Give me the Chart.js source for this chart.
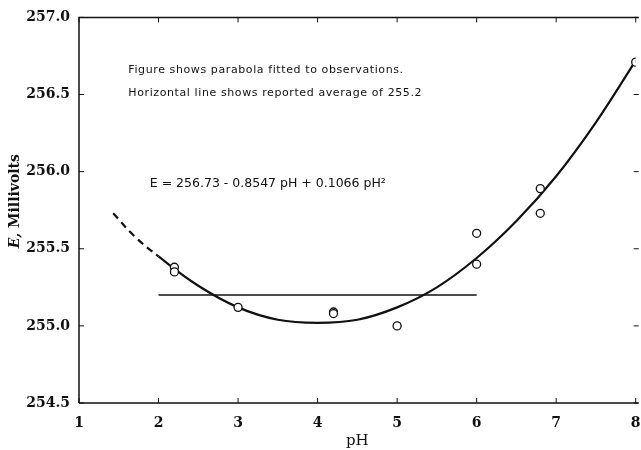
<!DOCTYPE html>
<html>
<head>
<meta charset="utf-8">
<script src="https://cdn.jsdelivr.net/npm/chart.js@4.4.0/dist/chart.umd.min.js"></script>
<style>
    html, body { margin: 0; padding: 0; background: #fff; }
    #wrap { width: 641px; height: 450px; }
</style>
</head>
<body>
<div id="wrap"><canvas id="phChart" width="641" height="450"></canvas></div>
<script>
// fitted parabola (dashed below pH 2)
const fitPH = [1.43, 1.7, 2.0, 2.5, 3.0, 3.5, 4.0, 4.5, 5.0, 5.5, 6.0, 6.5, 7.0, 7.5, 8.0]
const fitE  = [255.73, 255.58, 255.45, 255.26, 255.12, 255.04, 255.02, 255.04, 255.12, 255.25, 255.44, 255.68, 255.97, 256.32, 256.72]

// observations (open circles)
const obsPH = [2.2, 2.2, 3.0, 4.2, 4.2, 5.0, 6.0, 6.0, 6.8, 6.8, 8.0]
const obsE  = [255.38, 255.35, 255.12, 255.09, 255.08, 255.00, 255.60, 255.40, 255.89, 255.73, 256.71]

// reported average
const avgPH = [2.0, 6.0]
const avgE  = [255.2, 255.2]

const xTicks = [1, 2, 3, 4, 5, 6, 7, 8]
const yTicks = [254.5, 255.0, 255.5, 256.0, 256.5, 257.0]

const notes = [
    'Figure shows parabola fitted to observations.',
    'Horizontal line shows reported average of 255.2'
]
const equation = 'E = 256.73 - 0.8547 pH + 0.1066 pH\u00B2'

const serif = "'DejaVu Serif', serif"
const sans  = "'DejaVu Sans', sans-serif"

const toPoints = (xs, ys) => xs.map((x, i) => ({ x: x, y: ys[i] }))

// box, inward ticks, y title and the lettering on the plot
const framePlugin = {
    id: 'frame',
    afterDraw(chart) {
        const { ctx, chartArea: a, scales: { x, y } } = chart
        ctx.save()
        ctx.strokeStyle = '#111'
        ctx.lineWidth = 1.5
        ctx.beginPath()
        ctx.moveTo(a.left, a.bottom)
        ctx.lineTo(a.left, a.top)
        ctx.lineTo(a.right + 3, a.top)
        ctx.moveTo(a.left, a.bottom)
        ctx.lineTo(a.right + 3, a.bottom)
        ctx.stroke()

        ctx.lineWidth = 1
        ctx.beginPath()
        xTicks.forEach(v => {
            const px = x.getPixelForValue(v)
            ctx.moveTo(px, a.bottom); ctx.lineTo(px, a.bottom - 5)
            ctx.moveTo(px, a.top);    ctx.lineTo(px, a.top + 5)
        })
        yTicks.forEach(v => {
            const py = y.getPixelForValue(v)
            ctx.moveTo(a.left, py);  ctx.lineTo(a.left + 5, py)
            ctx.moveTo(a.right + 3, py); ctx.lineTo(a.right - 2, py)
        })
        ctx.stroke()

        ctx.fillStyle = '#111'
        ctx.textBaseline = 'middle'
        ctx.textAlign = 'left'
        ctx.font = '11px ' + sans
        ctx.letterSpacing = '0.6px'
        ctx.fillText(notes[0], x.getPixelForValue(1.62), y.getPixelForValue(256.66))
        ctx.fillText(notes[1], x.getPixelForValue(1.62), y.getPixelForValue(256.51))

        ctx.font = '12.5px ' + sans
        ctx.letterSpacing = '0px'
        ctx.fillText(equation, x.getPixelForValue(1.89), y.getPixelForValue(255.92))

        // y title: italic E, then the unit
        ctx.letterSpacing = '0px'
        ctx.translate(15, (a.top + a.bottom) / 2 - 9)
        ctx.rotate(-Math.PI / 2)
        const partA = 'E,'
        const partB = ' Millivolts'
        ctx.font = 'italic bold 14px ' + serif
        const wA = ctx.measureText(partA).width
        ctx.font = 'bold 14px ' + serif
        const wB = ctx.measureText(partB).width
        const start = -(wA + wB) / 2
        ctx.font = 'italic bold 14px ' + serif
        ctx.fillText(partA, start, 0)
        ctx.font = 'bold 14px ' + serif
        ctx.fillText(partB, start + wA, 0)
        ctx.restore()
    }
}

window.addEventListener('DOMContentLoaded', function () {
    const ctx = document.getElementById('phChart')

    new Chart(ctx, {
        type: 'scatter',
        data: {
            datasets: [
                {
                    label: 'Observations',
                    data: toPoints(obsPH, obsE),
                    pointRadius: 4,
                    pointBorderWidth: 1.3,
                    pointBorderColor: '#111',
                    pointBackgroundColor: '#fff',
                    order: 0
                },
                {
                    label: 'Parabola',
                    data: toPoints(fitPH, fitE),
                    showLine: true,
                    tension: 0.4,
                    borderColor: '#111',
                    borderWidth: 2.2,
                    pointRadius: 0,
                    segment: {
                        borderDash: c => c.p0.parsed.x < 2 ? [7, 5] : undefined
                    },
                    order: 1
                },
                {
                    label: 'Average',
                    data: toPoints(avgPH, avgE),
                    showLine: true,
                    borderColor: '#111',
                    borderWidth: 1.4,
                    pointRadius: 0,
                    order: 2
                }
            ]
        },
        options: {
            responsive: false,
            animation: false,
            layout: { padding: { top: 7, right: 0, bottom: 0, left: 0 } },
            plugins: {
                legend: { display: false },
                tooltip: { enabled: false }
            },
            scales: {
                x: {
                    type: 'linear',
                    min: 1,
                    max: 8,
                    afterFit(scale) {
                        scale.paddingRight = 4
                        scale.height = 47
                    },
                    afterBuildTicks(scale) { scale.ticks = xTicks.map(v => ({ value: v })) },
                    grid: { display: false, drawTicks: false },
                    border: { display: false },
                    ticks: {
                        color: '#111',
                        padding: 12,
                        font: { family: serif, size: 14, weight: 'bold' }
                    },
                    title: {
                        display: true,
                        text: 'pH',
                        color: '#111',
                        padding: { top: 0, bottom: 0 },
                        font: { family: serif, size: 15 }
                    }
                },
                y: {
                    min: 254.5,
                    max: 257.0,
                    afterFit(scale) { scale.width = 79 },
                    afterBuildTicks(scale) { scale.ticks = yTicks.map(v => ({ value: v })) },
                    grid: { display: false, drawTicks: false },
                    border: { display: false },
                    ticks: {
                        color: '#111',
                        padding: 9,
                        font: { family: serif, size: 14, weight: 'bold' },
                        callback: v => v.toFixed(1)
                    },
                    title: { display: false }
                }
            }
        },
        plugins: [framePlugin]
    })
})
</script>
</body>
</html>
